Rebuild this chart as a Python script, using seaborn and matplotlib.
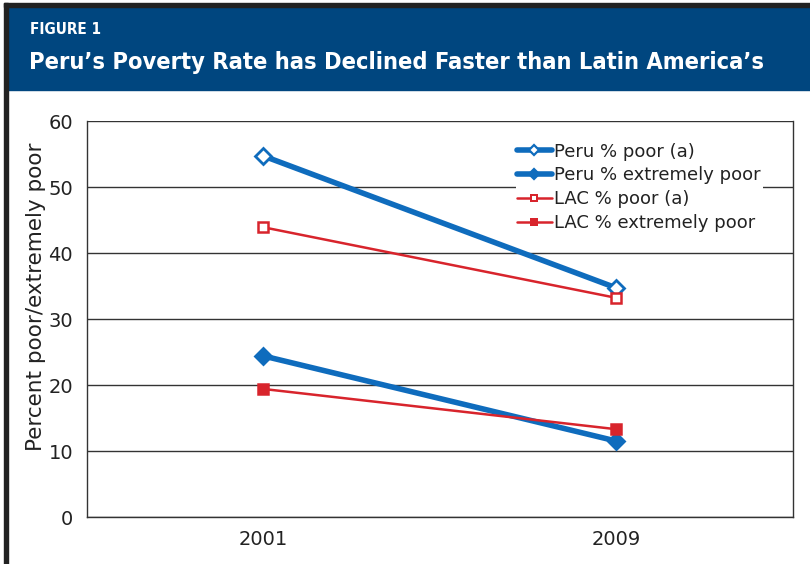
import numpy as np
import pandas as pd
import matplotlib.pyplot as plt
from matplotlib.patches import Rectangle
from matplotlib.lines import Line2D
import seaborn as sns

years = ['2001', '2009']
peru_poor = [54.7, 34.7]
peru_extreme = [24.4, 11.5]
lac_poor = [43.9, 33.2]
lac_extreme = [19.4, 13.3]

series_names = ['Peru % poor (a)', 'Peru % extremely poor',
                'LAC % poor (a)', 'LAC % extremely poor']
series_values = [peru_poor, peru_extreme, lac_poor, lac_extreme]

df = pd.DataFrame({
    'year': years * 4,
    'value': [v for vals in series_values for v in vals],
    'series': [s for s in series_names for _ in years],
})

blue = '#0f6cbd'
red = '#d8242c'
header_blue = '#00467f'

sns.set_style('white')
plt.rcParams['font.family'] = ['DejaVu Sans']

fig = plt.figure(figsize=(8.1, 5.64), dpi=100)
ax = fig.add_axes([0.1074, 0.0833, 0.8716, 0.7021])

# line styles per series
styles = {
    'Peru % poor (a)': dict(color=blue, lw=4.0, marker='D', ms=8, mfc='white', mew=2.0),
    'Peru % extremely poor': dict(color=blue, lw=4.0, marker='D', ms=8, mfc=blue, mew=2.0),
    'LAC % poor (a)': dict(color=red, lw=1.8, marker='s', ms=7, mfc='white', mew=1.8),
    'LAC % extremely poor': dict(color=red, lw=1.8, marker='s', ms=7, mfc=red, mew=1.8),
}

handles = []
for name in series_names:
    st = styles[name]
    sub = df[df['series'] == name]
    sns.lineplot(x='year', y='value', data=sub, ax=ax, color=st['color'],
                 linewidth=st['lw'], marker=st['marker'], markersize=st['ms'],
                 markerfacecolor=st['mfc'], markeredgecolor=st['color'],
                 markeredgewidth=st['mew'], legend=False, zorder=3)
    handles.append(Line2D([], [], color=st['color'], lw=st['lw'], marker=st['marker'],
                          ms=st['ms'] * 0.7, mfc=st['mfc'], mec=st['color'],
                          mew=st['mew'] * 0.8))

ax.set_xlim(-0.5, 1.5)
ax.set_ylim(0, 60)
ax.set_yticks(np.arange(0, 61, 10))
ax.set_xticks([0, 1])
ax.set_xticklabels(years)
ax.set_xticks([-0.5, 0.5, 1.5], minor=True)
ax.tick_params(axis='x', which='major', length=0, pad=9, labelsize=14, colors='#222222')
ax.tick_params(axis='x', which='minor', length=5, direction='out', width=1, color='#333333')
ax.tick_params(axis='y', length=6, direction='out', width=1, color='#333333',
               labelsize=14, labelcolor='#222222', pad=4)
ax.yaxis.grid(True, color='#333333', linewidth=1.0)
ax.set_axisbelow(True)
for side in ['left', 'bottom', 'right']:
    ax.spines[side].set_visible(True)
    ax.spines[side].set_color('#333333')
    ax.spines[side].set_linewidth(1.0)
ax.spines['top'].set_visible(False)

ax.set_xlabel('')
ax.set_ylabel('Percent poor/extremely poor', fontsize=15.5, color='#222222')
ax.yaxis.set_label_coords(-0.058, 0.555)

leg = ax.legend(handles, series_names, loc='upper left', bbox_to_anchor=(0.607, 0.95),
                fontsize=13, frameon=True, framealpha=1, edgecolor='white',
                facecolor='white', borderpad=0.1, labelspacing=0.32,
                handlelength=1.9, handletextpad=0.15, borderaxespad=0)
leg.get_frame().set_linewidth(0)
for t in leg.get_texts():
    t.set_color('#222222')

# header band and frame
fig.patches.append(Rectangle((8 / 810, 1 - 90 / 564), 1, 83 / 564,
                             transform=fig.transFigure, color=header_blue, zorder=0))
fig.patches.append(Rectangle((4 / 810, 1 - 7 / 564), 1, 4 / 564,
                             transform=fig.transFigure, color='#222222', zorder=1))
fig.patches.append(Rectangle((4 / 810, 0), 4 / 810, 1 - 3 / 564,
                             transform=fig.transFigure, color='#222222', zorder=1))

fig.text(30 / 810, 1 - 34 / 564, 'FIGURE 1', color='white', fontsize=11,
         fontweight='bold', fontstretch='condensed', va='baseline')
title = fig.text(29 / 810, 1 - 69 / 564,
                 'Peru\u2019s Poverty Rate has Declined Faster than Latin America\u2019s',
                 color='white', fontsize=19.5, fontweight='bold', fontstretch='condensed',
                 va='baseline')

# shrink title to the width it takes in the original
fig.canvas.draw()
w = title.get_window_extent().width
if w > 733:
    title.set_fontsize(19.5 * 733 / w)

plt.savefig('out.png', dpi=100)
